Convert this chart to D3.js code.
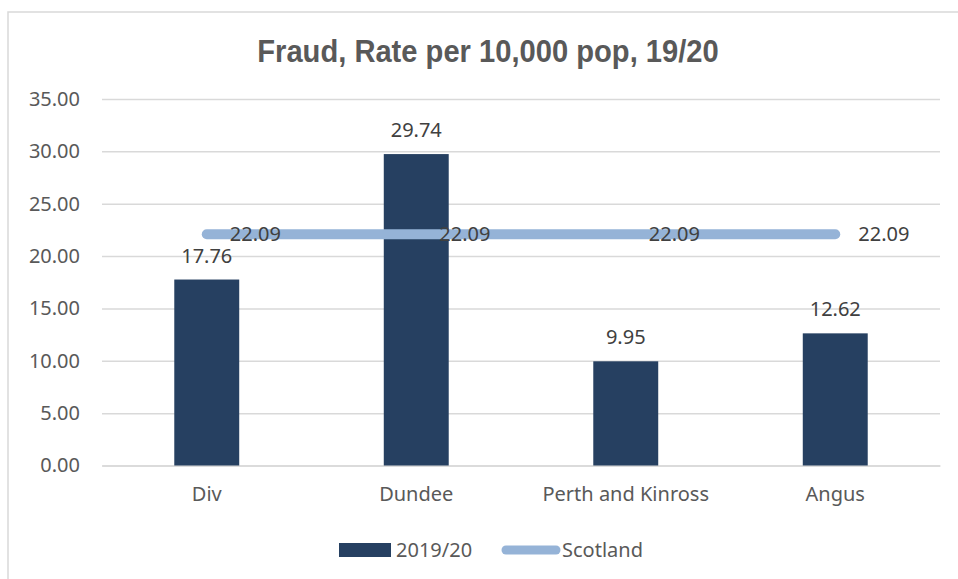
<!DOCTYPE html>
<html>
<head>
<meta charset="utf-8">
<script src="https://cdn.jsdelivr.net/npm/d3@7"></script>
<style>
  html, body { margin: 0; padding: 0; background: #fff; }
  svg { display: block; }
</style>
</head>
<body>
<svg id="chart" width="958" height="579"></svg>
<script>
// Fraud rate per 10,000 population, 2019/20
const categories = ["Div", "Dundee", "Perth and Kinross", "Angus"];
const rate2019 = [17.76, 29.74, 9.95, 12.62];
const scotland = [22.09, 22.09, 22.09, 22.09];
const yTicks = [0, 5, 10, 15, 20, 25, 30, 35];
const seriesNames = ["2019/20", "Scotland"];
const title = "Fraud, Rate per 10,000 pop, 19/20";

const W = 958, H = 579;
const margin = { left: 102, right: 18, top: 99, bottom: 113.5 };
const barColor = "#264061";
const lineColor = "#95B3D7";
const gridColor = "#d9d9d9";
const labelFont = "'Noto Sans', 'Open Sans', sans-serif";
const labelSize = 20;

const svg = d3.select("#chart");

// outer chart frame
svg.append("rect")
  .attr("x", 8).attr("y", 12)
  .attr("width", W + 10).attr("height", H + 10)
  .attr("fill", "#fff").attr("stroke", "#d9d9d9").attr("stroke-width", 1.5);

const x = d3.scaleBand()
  .domain(categories)
  .range([margin.left, W - margin.right])
  .paddingInner(0.69).paddingOuter(0.345);

const y = d3.scaleLinear()
  .domain([0, 35])
  .range([H - margin.bottom, margin.top]);

// title (slightly condensed bold face)
svg.append("text")
  .attr("transform", "translate(488,62) scale(0.94,1)")
  .attr("text-anchor", "middle")
  .attr("font-family", "'Liberation Sans', Arial, sans-serif")
  .attr("font-weight", "bold")
  .attr("font-size", 31)
  .attr("fill", "#595959")
  .text(title);

// gridlines + tick labels
const yAxis = d3.axisLeft(y)
  .tickValues(yTicks)
  .tickSize(-(W - margin.right - margin.left))
  .tickPadding(22)
  .tickFormat(d3.format(".2f"));

const gy = svg.append("g")
  .attr("transform", `translate(${margin.left},0)`)
  .call(yAxis);
gy.select(".domain").remove();
gy.selectAll(".tick line").attr("stroke", gridColor).attr("stroke-width", 1.5);
gy.selectAll(".tick text")
  .attr("font-family", labelFont)
  .attr("font-size", labelSize)
  .attr("fill", "#595959");

// category axis
const xAxis = d3.axisBottom(x).tickSize(0).tickPadding(21);
const gx = svg.append("g")
  .attr("transform", `translate(0,${y(0)})`)
  .call(xAxis);
gx.select(".domain").attr("stroke", gridColor).attr("stroke-width", 1.5);
gx.selectAll(".tick text")
  .attr("font-family", labelFont)
  .attr("font-size", labelSize)
  .attr("fill", "#595959");

// bars
svg.append("g").selectAll("rect")
  .data(categories)
  .join("rect")
  .attr("x", d => x(d))
  .attr("y", (d, i) => y(rate2019[i]))
  .attr("width", x.bandwidth())
  .attr("height", (d, i) => y(0) - y(rate2019[i]))
  .attr("fill", barColor);

// bar value labels
svg.append("g").selectAll("text")
  .data(categories)
  .join("text")
  .attr("x", d => x(d) + x.bandwidth() / 2)
  .attr("y", (d, i) => y(rate2019[i]) - 17)
  .attr("text-anchor", "middle")
  .attr("font-family", labelFont)
  .attr("font-size", labelSize)
  .attr("fill", "#404040")
  .text((d, i) => rate2019[i].toFixed(2));

// Scotland line
const line = d3.line()
  .x((d, i) => x(categories[i]) + x.bandwidth() / 2)
  .y(d => y(d));
svg.append("path")
  .datum(scotland)
  .attr("d", line)
  .attr("fill", "none")
  .attr("stroke", lineColor)
  .attr("stroke-width", 10)
  .attr("stroke-linecap", "round");

// Scotland value labels
svg.append("g").selectAll("text")
  .data(scotland)
  .join("text")
  .attr("x", (d, i) => x(categories[i]) + x.bandwidth() / 2 + 23)
  .attr("y", d => y(d))
  .attr("dy", "0.35em")
  .attr("font-family", labelFont)
  .attr("font-size", labelSize)
  .attr("fill", "#404040")
  .text(d => d.toFixed(2));

// legend
const lg = svg.append("g");
lg.append("rect")
  .attr("x", 339).attr("y", 543).attr("width", 52).attr("height", 14)
  .attr("fill", barColor);
lg.append("text")
  .attr("x", 396).attr("y", 550).attr("dy", "0.35em")
  .attr("font-family", labelFont).attr("font-size", labelSize).attr("fill", "#595959")
  .text(seriesNames[0]);
lg.append("line")
  .attr("x1", 506).attr("x2", 556).attr("y1", 550).attr("y2", 550)
  .attr("stroke", lineColor).attr("stroke-width", 9).attr("stroke-linecap", "round");
lg.append("text")
  .attr("x", 562).attr("y", 550).attr("dy", "0.35em")
  .attr("font-family", labelFont).attr("font-size", labelSize).attr("fill", "#595959")
  .text(seriesNames[1]);
</script>
</body>
</html>
